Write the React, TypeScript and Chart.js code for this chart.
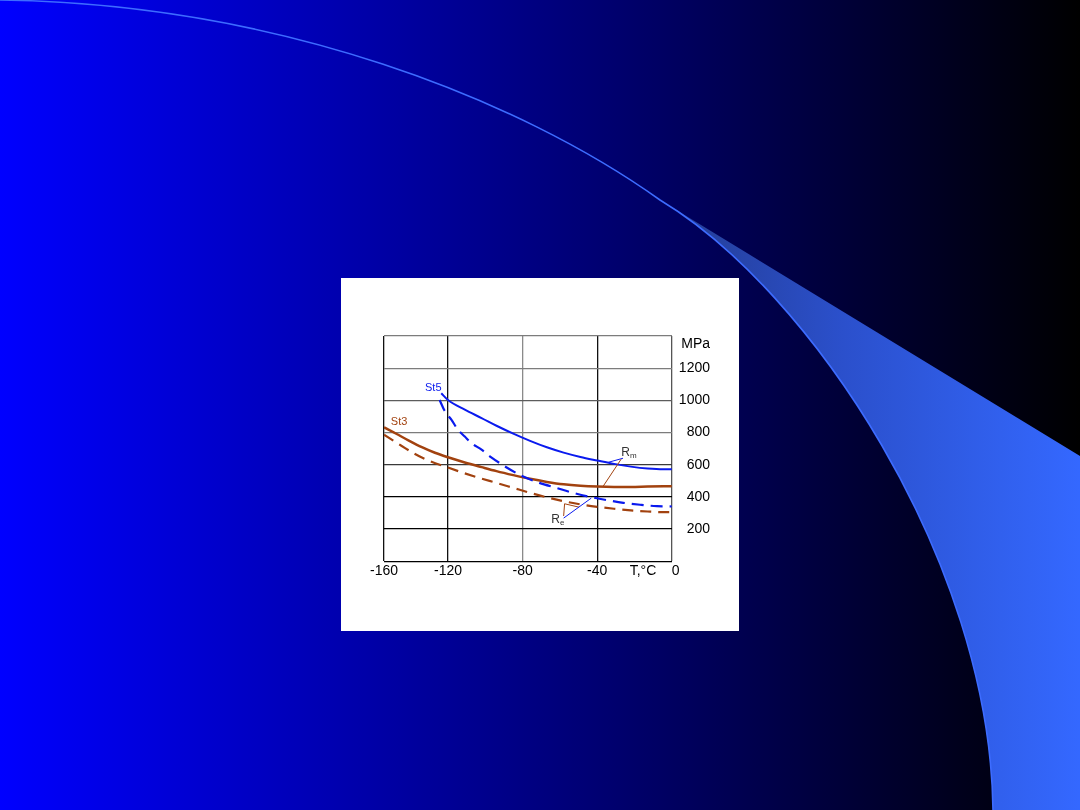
import { useEffect, useRef } from "react";
import Chart from "chart.js/auto";
import type { Plugin, ScriptableScaleContext } from "chart.js";

// the grid's left edge is printed "-160" in the source figure, but the
// first column is narrower than the others, so it really sits near -154
const X_MIN = -154.3;
const xTickValues = [X_MIN, -120, -80, -40, -15.5, 0];
const xTickLabels = ["-160", "-120", "-80", "-40", "T,°C", "  0"];
const yTickValues = [0, 200, 400, 600, 800, 1000, 1200, 1400];
const yTickLabels: (string | string[])[] = ["", "200", "400", "600", "800", "1000", "1200", ["", "MPa"]];

// St5, Rm (solid blue)
const st5RmT = [-123.6, -120, -111, -102, -94, -85, -76, -67, -58, -49, -40, -31, -22, -13, -4.5, 0];
const st5RmMPa = [1044, 1002, 942, 890, 842, 793, 748, 708, 675, 648, 626, 605, 588, 576, 571, 571];

// St5, Re (dashed blue)
const st5ReT = [-124.5, -121.8, -118.2, -114.7, -111, -107.5, -102, -97, -89, -80, -71, -62, -53, -44, -35, -26, -17, -8, 0];
const st5ReMPa = [1002, 935, 880, 818, 775, 735, 693, 647, 586, 528, 487, 456, 425, 400, 380, 363, 351, 342, 340];

// St3, Rm (solid brown)
const st3RmT = [-154.3, -148, -141, -134, -127, -120, -111, -102, -94, -85, -76, -67, -58, -49, -40, -31, -22, -13, 0];
const st3RmMPa = [832, 794, 750, 709, 674, 646, 614, 585, 560, 535, 512, 493, 478, 469, 464, 462, 462, 464, 466];

// St3, Re (dashed brown)
const st3ReT = [-154.3, -145, -138, -131, -120, -112, -103, -94, -85, -76, -67, -58, -49, -40, -31, -22, -13, -4.5, -1];
const st3ReMPa = [786, 718, 668, 628, 582, 550, 517, 487, 456, 425, 397, 373, 353, 338, 326, 316, 309, 305, 305];

// label anchors and leader lines, in data units (°C, MPa)
const st5LabelAt = [-127.9, 1078];
const st3LabelAt = [-146.2, 867];
const rmLabelAt = [-27.1, 676];
const reLabelAt = [-64.6, 257];
const rmBlueLeader = [[-26.2, 640], [-34, 615]];
const rmBrownLeader = [[-27.2, 634], [-37, 463]];
const reBrownLeader = [[-58, 281], [-57.5, 357], [-49.8, 336]];
const reBlueLeader = [[-58, 268], [-43.2, 392]];

const BLUE = "#0a1aee";
const BROWN = "#a2420f";
const FONT = "'Liberation Sans', Arial, sans-serif";

const toPoints = (t: number[], r: number[]) => t.map((v, i) => ({ x: v, y: r[i] }));

const annotations: Plugin<"line"> = {
  id: "annotations",
  afterDatasetsDraw(chart) {
    const { ctx } = chart;
    const x = chart.scales.x;
    const y = chart.scales.y;
    const px = (v: number) => x.getPixelForValue(v);
    const py = (v: number) => y.getPixelForValue(v);

    const leader = (pts: number[][], color: string) => {
      ctx.beginPath();
      pts.forEach(([t, r], i) => (i ? ctx.lineTo(px(t), py(r)) : ctx.moveTo(px(t), py(r))));
      ctx.strokeStyle = color;
      ctx.lineWidth = 1;
      ctx.stroke();
    };

    const subLabel = (at: number[], main: string, sub: string) => {
      const lx = px(at[0]);
      const ly = py(at[1]);
      ctx.fillStyle = "#333";
      ctx.textAlign = "left";
      ctx.font = `12px ${FONT}`;
      ctx.fillText(main, lx, ly);
      const w = ctx.measureText(main).width;
      ctx.font = `8px ${FONT}`;
      ctx.fillText(sub, lx + w, ly + 3);
    };

    ctx.save();
    ctx.textBaseline = "middle";

    leader(rmBlueLeader, BLUE);
    leader(rmBrownLeader, BROWN);
    leader(reBrownLeader, BROWN);
    leader(reBlueLeader, BLUE);

    ctx.textAlign = "center";
    ctx.font = `11px ${FONT}`;
    ctx.fillStyle = BLUE;
    ctx.fillText("St5", px(st5LabelAt[0]), py(st5LabelAt[1]));
    ctx.fillStyle = BROWN;
    ctx.fillText("St3", px(st3LabelAt[0]), py(st3LabelAt[1]));

    subLabel(rmLabelAt, "R", "m");
    subLabel(reLabelAt, "R", "e");
    ctx.restore();
  },
};

const xGridColor = (c: ScriptableScaleContext) => {
  const v = c.tick?.value;
  if (v === -15.5) return "rgba(0,0,0,0)";
  if (v === -80) return "#8a8a8a";
  if (v === 0) return "#555";
  return "#111";
};

const yGridColor = (c: ScriptableScaleContext) => {
  const v = c.tick?.value;
  if (v === 600) return "#3a3a3a";
  if (v === 1000) return "#5c5c5c";
  if (v !== undefined && v >= 800) return "#7c7c7c";
  return "#000";
};

const ChartBox = () => {
  const canvasRef = useRef<HTMLCanvasElement>(null);

  useEffect(() => {
    if (!canvasRef.current) return;
    const tickFont = { family: FONT, size: 14 };

    const chart = new Chart(canvasRef.current, {
      type: "line",
      data: {
        datasets: [
          { data: toPoints(st5RmT, st5RmMPa), borderColor: BLUE, borderWidth: 2 },
          { data: toPoints(st5ReT, st5ReMPa), borderColor: BLUE, borderWidth: 2.2, borderDash: [12, 7] },
          { data: toPoints(st3RmT, st3RmMPa), borderColor: BROWN, borderWidth: 2.5 },
          { data: toPoints(st3ReT, st3ReMPa), borderColor: BROWN, borderWidth: 2.2, borderDash: [11, 7] },
        ].map((d) => ({ ...d, pointRadius: 0, fill: false, cubicInterpolationMode: "monotone" as const })),
      },
      options: {
        animation: false,
        responsive: true,
        maintainAspectRatio: false,
        layout: { padding: { left: 43, right: 29, top: 58, bottom: 49 } },
        plugins: { legend: { display: false }, tooltip: { enabled: false } },
        scales: {
          x: {
            type: "linear",
            min: X_MIN,
            max: 0,
            afterBuildTicks: (axis) => {
              axis.ticks = xTickValues.map((value) => ({ value }));
            },
            ticks: {
              autoSkip: false,
              maxRotation: 0,
              padding: 2,
              color: "#000",
              font: tickFont,
              callback: (_v, i) => xTickLabels[i],
            },
            grid: { color: xGridColor, lineWidth: 1.3, drawTicks: false },
            border: { display: false },
          },
          y: {
            type: "linear",
            position: "right",
            min: 0,
            max: 1400,
            afterBuildTicks: (axis) => {
              axis.ticks = yTickValues.map((value) => ({ value }));
            },
            ticks: {
              autoSkip: false,
              crossAlign: "far",
              padding: 3.5,
              color: "#000",
              font: tickFont,
              callback: (_v, i) => yTickLabels[i],
            },
            grid: { color: yGridColor, lineWidth: 1.3, drawTicks: false },
            border: { display: false },
          },
        },
      },
      plugins: [annotations],
    });

    return () => chart.destroy();
  }, []);

  return (
    <div style={{ position: "absolute", left: 341, top: 278, width: 398, height: 353, background: "#fff" }}>
      <canvas ref={canvasRef} />
    </div>
  );
};

export default function App() {
  return (
    <div style={{ position: "absolute", left: 0, top: 0, width: 1080, height: 810, overflow: "hidden" }}>
      <svg width={1080} height={810} style={{ position: "absolute", left: 0, top: 0 }}>
        <defs>
          <linearGradient id="bg" x1="0" y1="0" x2="1080" y2="0" gradientUnits="userSpaceOnUse">
            <stop offset="0" stopColor="#0000ff" />
            <stop offset="1" stopColor="#000000" />
          </linearGradient>
          <linearGradient id="wedge" x1="650" y1="0" x2="1080" y2="0" gradientUnits="userSpaceOnUse">
            <stop offset="0" stopColor="#233a8c" />
            <stop offset="0.45" stopColor="#2b50cc" />
            <stop offset="1" stopColor="#3468ff" />
          </linearGradient>
        </defs>
        <rect width={1080} height={810} fill="url(#bg)" />
        <path d="M 660 200 C 810 290 990 560 993 810 L 1080 810 L 1080 456 Z" fill="url(#wedge)" />
        <path
          d="M 0 0 C 280 4 520 100 660 200 C 810 290 990 560 993 810"
          fill="none"
          stroke="#3d6cff"
          strokeWidth={1.6}
        />
      </svg>
      <ChartBox />
    </div>
  );
}
